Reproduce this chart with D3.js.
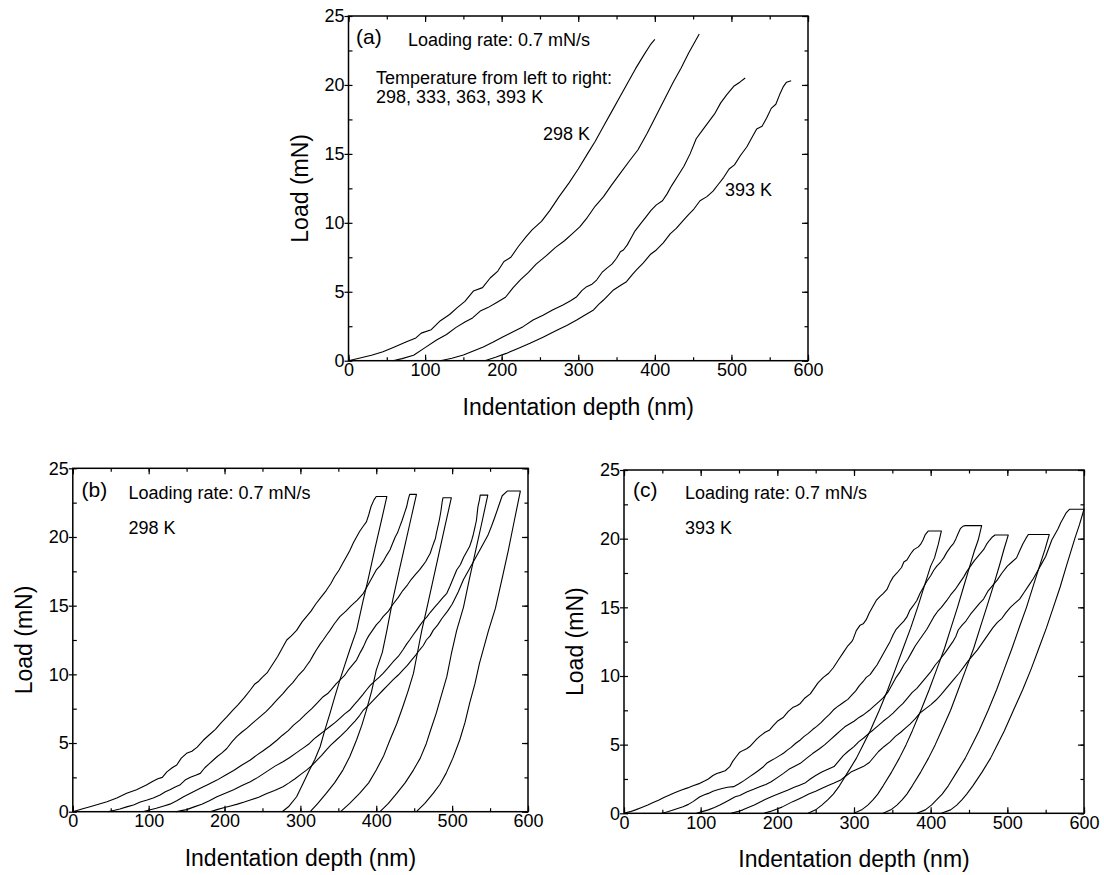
<!DOCTYPE html>
<html>
<head>
<meta charset="utf-8">
<script src="https://cdn.jsdelivr.net/npm/d3@7/dist/d3.min.js"></script>
<style>
  body { margin: 0; background: #fff; }
  svg { display: block; font-family: Arial, "Liberation Sans", Helvetica, sans-serif; }
</style>
</head>
<body>
<svg id="fig" width="1104" height="875"></svg>
<script>
// ---- axis ticks -------------------------------------------------------
const depthTicks = [0, 100, 200, 300, 400, 500, 600];
const depthMinor = [0, 50, 100, 150, 200, 250, 300, 350, 400, 450, 500, 550, 600];
const loadTicks = [0, 5, 10, 15, 20, 25];
const loadMinor = [0, 2.5, 5, 7.5, 10, 12.5, 15, 17.5, 20, 22.5, 25];

// ---- (a) loading curves at four temperatures: [depth nm, load mN] ------
const a298 = [[0,0],[15,0.2],[30,0.4],[45,0.65],[60,1.0],[75,1.35],[88,1.65],[95,2.0],[108,2.25],[120,2.9],[132,3.35],[142,3.85],[152,4.3],[163,5.05],[175,5.3],[185,6.0],[195,6.5],[203,7.2],[212,7.5],[222,8.3],[232,9.0],[240,9.5],[252,10.1],[263,10.9],[275,11.9],[288,12.9],[300,13.9],[312,15.0],[322,15.9],[333,17.0],[344,18.1],[355,19.2],[365,20.2],[375,21.2],[386,22.2],[394,22.9],[400,23.3]];
const a333 = [[58,0],[70,0.15],[85,0.4],[100,0.95],[115,1.5],[128,1.9],[140,2.4],[152,2.8],[162,3.1],[172,3.6],[182,3.85],[193,4.2],[205,4.6],[215,5.3],[225,5.9],[235,6.4],[245,7.0],[258,7.6],[270,8.2],[282,8.7],[292,9.2],[302,9.7],[312,10.4],[322,11.2],[333,11.9],[343,12.7],[355,13.6],[367,14.5],[378,15.3],[390,16.5],[402,17.8],[413,19.0],[424,20.2],[434,21.2],[444,22.3],[452,23.1],[458,23.7]];
const a363 = [[120,0],[135,0.18],[150,0.41],[163,0.7],[176,1.0],[189,1.35],[202,1.74],[215,2.1],[228,2.47],[241,2.95],[254,3.3],[267,3.7],[280,4.04],[290,4.35],[298,4.64],[305,5.1],[311,5.37],[318,5.55],[324,5.85],[331,6.4],[337,6.7],[344,7.0],[350,7.43],[355,7.9],[359,8.03],[364,8.4],[369,8.9],[374,9.4],[381,9.9],[388,10.4],[395,10.9],[402,11.3],[410,11.6],[416,12.1],[422,12.7],[430,13.4],[438,14.1],[446,15.0],[454,16.1],[462,16.7],[470,17.3],[478,17.9],[486,18.7],[494,19.3],[503,19.9],[511,20.2],[518,20.5]];
const a393 = [[178,0],[192,0.25],[206,0.53],[222,0.9],[237,1.26],[254,1.7],[272,2.2],[285,2.55],[298,2.95],[310,3.35],[320,3.68],[327,4.1],[333,4.4],[340,4.8],[346,5.13],[355,5.45],[363,5.73],[370,6.2],[376,6.58],[385,7.1],[394,7.7],[402,8.03],[411,8.55],[420,9.2],[428,9.6],[436,10.1],[444,10.6],[451,11.0],[459,11.6],[468,11.9],[476,12.3],[483,12.8],[490,13.3],[497,13.9],[504,14.2],[512,14.9],[520,15.5],[527,16.2],[533,16.8],[540,17.0],[546,17.6],[552,18.3],[558,18.6],[563,19.3],[568,19.9],[572,20.2],[578,20.3]];

// ---- (b) load-hold-unload cycles at 298 K ------------------------------
const b1 = [[0,0],[12,0.2],[25,0.4],[45,0.73],[58,1.0],[71,1.34],[84,1.6],[97,1.94],[105,2.2],[112,2.4],[118,2.5],[124,2.9],[131,3.2],[137,3.4],[143,3.9],[150,4.25],[157,4.4],[164,4.7],[172,5.2],[180,5.6],[188,6.0],[196,6.5],[203,6.9],[211,7.4],[218,7.8],[226,8.3],[234,8.86],[240,9.3],[245,9.5],[250,9.8],[256,10.1],[263,10.7],[270,11.3],[276,11.9],[282,12.5],[288,12.8],[295,13.2],[302,13.8],[308,14.2],[314,14.6],[320,15.1],[327,15.6],[334,16.1],[340,16.6],[345,17.1],[351,17.6],[356,18.1],[361,18.6],[365,19.0],[370,19.6],[374,20.0],[378,20.4],[383,20.8],[387,21.1],[390,21.6],[393,22.2],[397,22.7],[400,22.95],[414,22.95],
  [406,21.0],[398,19.1],[390,17.1],[382,15.2],[374,13.2],[365,11.77],[358,10.6],[352,9.58],[345,8.3],[339,7.16],[332,5.9],[326,4.73],[319,3.8],[312,3.03],[303,2.0],[295,1.09],[285,0.4],[276,0]];
const b2 = [[46,0],[55,0.1],[62,0.2],[71,0.35],[80,0.49],[89,0.7],[98,0.85],[106,1.0],[115,1.21],[122,1.45],[128,1.6],[135,1.8],[141,1.94],[148,2.3],[155,2.5],[162,2.65],[168,2.79],[174,3.2],[180,3.5],[186,3.8],[190,4.0],[197,4.3],[203,4.6],[210,5.1],[216,5.46],[223,5.8],[230,6.1],[238,6.5],[247,6.92],[255,7.3],[262,7.7],[270,8.2],[277,8.6],[283,9.0],[290,9.4],[297,9.9],[304,10.3],[309,10.7],[313,11.0],[317,11.4],[321,11.77],[326,12.2],[330,12.5],[335,12.9],[339,13.2],[345,13.7],[352,14.2],[360,14.6],[367,15.0],[375,15.4],[383,15.9],[388,16.4],[392,16.8],[396,17.2],[400,17.6],[405,17.9],[410,18.3],[414,18.7],[418,19.05],[422,19.6],[425,20.0],[428,20.3],[431,20.75],[434,21.2],[437,21.7],[440,22.2],[442,22.7],[444,23.1],[453,23.1],
  [446,21.4],[438,19.45],[430,17.5],[422,15.5],[414,13.2],[408,11.6],[400,10.31],[394,8.8],[387,7.4],[381,6.3],[374,5.22],[365,4.0],[356,3.03],[345,2.1],[334,1.33],[323,0.6],[313,0]];
const b3 = [[92,0],[101,0.12],[110,0.25],[119,0.4],[128,0.55],[137,0.8],[146,1.09],[157,1.4],[168,1.7],[179,2.0],[190,2.3],[201,2.65],[212,3.0],[223,3.4],[234,3.76],[242,4.1],[250,4.4],[260,4.8],[269,5.2],[276,5.55],[284,5.9],[291,6.3],[299,6.67],[307,7.1],[315,7.5],[322,7.9],[330,8.37],[336,8.6],[341,8.9],[347,9.3],[352,9.58],[358,9.9],[363,10.3],[369,10.7],[374,11.04],[379,11.6],[383,12.0],[387,12.5],[390,12.8],[395,13.2],[400,13.6],[405,13.9],[409,14.2],[416,14.6],[422,15.1],[429,15.6],[435,16.1],[441,16.5],[446,16.9],[452,17.3],[457,17.6],[461,17.9],[465,18.2],[468,18.5],[471,18.8],[474,19.3],[476,19.6],[478,19.9],[479,20.2],[481,20.7],[483,21.2],[485,21.8],[486,22.2],[487,22.6],[488,22.86],[499,22.86],
  [491,20.9],[483,18.9],[475,16.9],[467,14.9],[460,13.2],[454,11.5],[449,10.07],[442,8.8],[435,7.64],[427,6.4],[418,5.22],[410,4.1],[400,3.03],[390,2.1],[378,1.33],[365,0.6],[353,0]];
const b4 = [[136,0],[143,0.08],[150,0.15],[160,0.35],[170,0.55],[180,0.8],[190,1.09],[201,1.35],[212,1.6],[223,1.9],[234,2.18],[244,2.5],[255,2.9],[266,3.3],[277,3.64],[286,3.95],[295,4.3],[304,4.65],[312,4.97],[318,5.3],[325,5.6],[332,5.9],[339,6.2],[346,6.5],[352,6.8],[358,7.1],[365,7.4],[371,7.8],[376,8.1],[382,8.5],[387,8.86],[392,9.2],[398,9.5],[404,9.8],[409,10.07],[416,10.5],[422,10.9],[429,11.3],[435,11.77],[440,12.2],[444,12.5],[449,12.9],[453,13.2],[458,13.6],[462,13.9],[467,14.2],[471,14.5],[477,14.9],[482,15.2],[488,15.6],[493,15.9],[497,16.4],[500,16.8],[503,17.2],[506,17.6],[511,18.0],[515,18.5],[519,18.9],[523,19.3],[526,19.8],[528,20.2],[530,20.7],[532,21.2],[533,21.7],[534,22.2],[536,22.7],[537,23.05],[547,23.05],
  [539,21.0],[531,19.0],[523,17.0],[515,14.9],[506,13.2],[499,11.5],[493,9.83],[486,8.5],[479,7.16],[472,6.0],[466,4.97],[458,3.9],[449,3.03],[438,2.1],[427,1.33],[416,0.6],[405,0]];
const b5 = [[181,0],[190,0.15],[200,0.3],[208,0.42],[217,0.55],[226,0.7],[234,0.85],[245,1.05],[255,1.3],[266,1.55],[277,1.82],[285,2.1],[293,2.4],[300,2.7],[308,3.03],[315,3.35],[321,3.7],[328,4.1],[334,4.49],[340,4.85],[347,5.2],[354,5.55],[361,5.94],[367,6.3],[372,6.6],[378,7.0],[383,7.4],[390,7.75],[396,8.1],[402,8.45],[409,8.86],[416,9.25],[422,9.6],[429,9.95],[435,10.31],[441,10.65],[446,11.0],[452,11.4],[457,11.77],[462,12.1],[466,12.5],[471,12.8],[475,13.2],[481,13.6],[487,14.1],[494,14.6],[500,15.1],[508,16.0],[515,16.9],[522,17.6],[530,18.4],[538,19.2],[547,20.1],[552,20.8],[556,21.4],[561,22.2],[566,23.0],[573,23.35],[590,23.35],
  [582,21.2],[574,19.0],[566,17.0],[557,14.8],[548,13.2],[542,12.0],[536,10.8],[530,9.3],[523,7.88],[517,6.5],[510,5.22],[501,3.9],[492,2.79],[484,2.0],[475,1.33],[464,0.6],[453,0]];

// ---- (c) load-hold-unload cycles at 393 K ------------------------------
const c1 = [[0,0],[8,0.12],[15,0.25],[23,0.42],[31,0.6],[38,0.78],[45,0.95],[52,1.15],[58,1.3],[66,1.5],[75,1.7],[83,1.85],[90,2.0],[99,2.18],[105,2.35],[110,2.5],[116,2.75],[121,2.9],[127,3.0],[132,3.1],[138,3.4],[142,3.8],[146,4.1],[151,4.45],[156,4.6],[160,4.7],[164,4.86],[168,5.1],[173,5.4],[177,5.6],[184,5.9],[190,6.07],[195,6.4],[200,6.7],[208,7.0],[214,7.4],[220,7.7],[226,7.85],[230,8.0],[236,8.4],[243,8.7],[248,9.1],[253,9.5],[260,9.9],[267,10.2],[273,10.6],[280,11.2],[286,11.7],[292,12.2],[297,12.5],[299,12.7],[303,13.3],[308,13.7],[312,13.8],[316,14.1],[320,14.6],[325,15.1],[329,15.5],[334,15.8],[338,16.0],[343,16.3],[347,16.8],[351,17.2],[356,17.5],[362,17.9],[365,18.3],[369,18.45],[374,18.9],[378,19.2],[384,19.4],[387,19.6],[390,19.9],[393,20.3],[397,20.56],[414,20.56],
  [410,19.6],[405,18.6],[400,18.0],[392,16.6],[383,15.0],[374,13.5],[364,12.0],[354,10.5],[344,9.0],[333,7.5],[321,6.0],[312,5.0],[303,4.0],[292,3.0],[281,2.0],[273,1.4],[266,1.0],[258,0.6],[250,0.25],[240,0]];
const c2 = [[49.5,0],[56,0.1],[62,0.2],[70,0.35],[77,0.48],[84,0.65],[90,0.85],[99,1.21],[105,1.35],[110,1.45],[116,1.6],[121,1.7],[128,1.8],[135,1.9],[143,1.94],[150,2.15],[157,2.4],[164,2.67],[170,2.9],[175,3.1],[181,3.35],[186,3.64],[192,3.85],[197,4.0],[203,4.2],[208,4.37],[213,4.6],[218,4.8],[224,5.1],[230,5.34],[235,5.6],[240,5.8],[246,6.1],[251,6.31],[257,6.6],[262,6.9],[268,7.2],[273,7.52],[278,7.75],[282,7.9],[287,8.1],[292,8.3],[297,8.6],[302,8.9],[307,9.3],[312,9.6],[316,9.9],[321,10.1],[326,10.5],[330,10.8],[334,11.2],[338,11.6],[342,12.0],[347,12.5],[351,13.0],[355,13.4],[360,13.7],[365,14.0],[369,14.3],[373,14.8],[377,15.1],[382,15.5],[386,16.0],[391,16.5],[395,16.9],[400,17.3],[404,17.7],[408,18.0],[413,18.3],[417,18.6],[421,19.0],[426,19.4],[430,19.66],[433,20.0],[436,20.4],[439,20.75],[442,20.9],[445,20.95],[466.5,20.95],
  [462,19.9],[457,19.1],[451,18.0],[443,16.5],[435,15.0],[427,13.6],[418,12.0],[408,10.5],[398,9.0],[388,7.6],[376,6.0],[368,5.0],[359,4.0],[349,3.0],[338,2.0],[331,1.4],[325,1.0],[318,0.6],[310,0.25],[300,0]];
const c3 = [[94.6,0],[102,0.12],[110,0.25],[118,0.42],[125,0.6],[132,0.8],[138,0.98],[145,1.2],[151,1.3],[160,1.55],[169,1.75],[177,1.94],[185,2.1],[192,2.3],[200,2.6],[208,2.91],[215,3.2],[222,3.4],[230,3.64],[238,4.0],[246,4.35],[255,4.7],[262,5.0],[270,5.4],[276,5.7],[282,6.0],[288,6.3],[294,6.5],[300,6.7],[307,7.0],[313,7.2],[320,7.5],[326,7.8],[332,8.1],[338,8.4],[344,8.8],[350,9.4],[355,9.9],[360,10.3],[365,10.8],[370,11.2],[375,11.7],[380,12.2],[385,12.6],[390,13.0],[395,13.4],[400,13.9],[404,14.3],[409,14.7],[414,15.0],[421,15.5],[426,15.9],[432,16.3],[438,16.8],[443,17.2],[447,17.6],[452,18.0],[457,18.4],[463,18.8],[469,19.2],[473,19.6],[477,19.9],[480,20.1],[484,20.27],[501.3,20.27],
  [496,19.3],[490,18.1],[482,16.6],[473,15.0],[465,13.6],[456,12.0],[446,10.5],[436,9.0],[426,7.5],[414,6.0],[406,5.0],[397,4.0],[387,3.0],[376,2.0],[369,1.4],[363,1.0],[356,0.6],[348,0.25],[338,0]];
const c4 = [[139.6,0],[148,0.12],[155,0.25],[162,0.42],[170,0.6],[177,0.8],[184,1.0],[190,1.15],[196,1.3],[205,1.5],[214,1.7],[222,1.9],[229,2.05],[236,2.2],[243,2.5],[250,2.75],[258,3.0],[266,3.2],[274,3.4],[280,3.8],[286,4.2],[292,4.5],[300,4.86],[306,5.2],[313,5.5],[319,5.8],[325,6.07],[332,6.4],[338,6.7],[345,7.0],[351,7.3],[358,7.7],[364,8.0],[370,8.4],[376,8.8],[382,9.1],[388,9.5],[394,9.9],[400,10.3],[406,10.8],[412,11.2],[419,11.7],[424,12.1],[429,12.5],[433,12.9],[436,13.35],[441,13.7],[446,14.0],[452,14.5],[458,14.9],[464,15.3],[469,15.6],[475,16.2],[481,16.6],[487,17.0],[493,17.5],[500,18.0],[506,18.3],[512,18.6],[516,19.1],[520,19.6],[524,20.0],[527.4,20.3],[554.7,20.3],
  [549,19.2],[542,18.0],[534,16.6],[525,15.0],[516,13.6],[506,12.0],[496,10.5],[486,9.0],[475,7.5],[463,6.0],[454,5.0],[445,4.0],[434,3.0],[423,2.0],[415,1.4],[408,1.0],[401,0.6],[393,0.25],[382,0]];
const c5 = [[182.4,0],[190,0.12],[198,0.28],[206,0.45],[213,0.65],[220,0.85],[228,1.05],[234,1.2],[241,1.4],[250,1.6],[259,1.85],[267,2.05],[274,2.2],[282,2.4],[289,2.7],[296,3.0],[304,3.2],[312,3.4],[320,3.7],[326,4.1],[332,4.5],[339,4.85],[347,5.2],[354,5.6],[361,5.9],[367,6.2],[373,6.5],[380,6.9],[386,7.3],[393,7.6],[400,7.9],[407,8.25],[413,8.6],[419,9.0],[425,9.4],[431,9.8],[437,10.2],[443,10.65],[449,11.1],[455,11.5],[461,11.9],[466,12.3],[471,12.7],[476,13.1],[481,13.5],[487,13.9],[493,14.2],[498,14.6],[504,15.0],[510,15.3],[516,15.6],[522,16.1],[528,16.6],[534,17.1],[540,17.7],[545,18.2],[550,18.7],[554,19.3],[558,19.9],[562,20.3],[566,20.7],[570,21.2],[574,21.6],[577,21.9],[581,22.14],[600,22.14],
  [594,21.0],[588,20.0],[577,18.0],[569,16.5],[560,15.0],[551,13.5],[541,12.0],[531,10.5],[520,9.0],[508,7.5],[496,6.0],[487,5.0],[478,4.0],[467,3.0],[455,2.0],[447,1.4],[441,1.0],[434,0.6],[426,0.25],[414,0]];

// ---- panel layout -----------------------------------------------------
const FONT = 'Arial, "Liberation Sans", Helvetica, sans-serif';
const panels = [
  { left: 348.5, top: 16, width: 459.5, height: 344.7,
    curves: [a298, a333, a363, a393],
    notes: [
      { t: '(a)', x: 356, y: 44, s: 21 },
      { t: 'Loading rate: 0.7 mN/s', x: 408, y: 46, s: 18 },
      { t: 'Temperature from left to right:', x: 376, y: 84, s: 18 },
      { t: '298, 333, 363, 393 K', x: 376, y: 103, s: 18 },
      { t: '298 K', x: 543, y: 140, s: 18 },
      { t: '393 K', x: 725, y: 196, s: 18 }
    ] },
  { left: 72.8, top: 468.3, width: 455.2, height: 343.4,
    curves: [b1, b2, b3, b4, b5],
    notes: [
      { t: '(b)', x: 81.5, y: 497, s: 21 },
      { t: 'Loading rate: 0.7 mN/s', x: 128.5, y: 499, s: 18 },
      { t: '298 K', x: 128.5, y: 534, s: 18 }
    ] },
  { left: 624, top: 470, width: 460, height: 343.3,
    curves: [c1, c2, c3, c4, c5],
    notes: [
      { t: '(c)', x: 633, y: 497, s: 21 },
      { t: 'Loading rate: 0.7 mN/s', x: 685, y: 499, s: 18 },
      { t: '393 K', x: 685, y: 534, s: 18 }
    ] }
];

const svg = d3.select('#fig');

function styleAxis(sel) {
  sel.select('.domain').remove();
  sel.selectAll('line').attr('stroke', '#000').attr('stroke-width', 1.2);
  sel.selectAll('text').attr('fill', '#000')
    .attr('font-family', FONT).attr('font-size', 18);
}

function drawPanel(p) {
  const g = svg.append('g').attr('transform', `translate(${p.left},${p.top})`);
  const x = d3.scaleLinear().domain([0, 600]).range([0, p.width]);
  const y = d3.scaleLinear().domain([0, 25]).range([p.height, 0]);

  // curves
  const line = d3.line().x(d => x(d[0])).y(d => y(d[1]));
  g.selectAll('path.curve').data(p.curves).join('path')
    .attr('class', 'curve')
    .attr('d', line)
    .attr('fill', 'none')
    .attr('stroke', '#000')
    .attr('stroke-width', 1.1)
    .attr('stroke-linejoin', 'round');

  // bottom axis: inward ticks with labels
  g.append('g').attr('transform', `translate(0,${p.height})`)
    .call(d3.axisBottom(x).tickValues(depthTicks).tickSizeInner(-6).tickSizeOuter(0).tickPadding(3))
    .call(styleAxis);
  g.append('g').attr('transform', `translate(0,${p.height})`)
    .call(d3.axisBottom(x).tickValues(depthMinor).tickSizeInner(-3.5).tickSizeOuter(0).tickFormat(''))
    .call(styleAxis);
  // top axis: inward ticks only
  g.append('g')
    .call(d3.axisTop(x).tickValues(depthTicks).tickSizeInner(-6).tickSizeOuter(0).tickFormat(''))
    .call(styleAxis);
  g.append('g')
    .call(d3.axisTop(x).tickValues(depthMinor).tickSizeInner(-3.5).tickSizeOuter(0).tickFormat(''))
    .call(styleAxis);

  // left axis: major ticks outward, minor inward
  g.append('g')
    .call(d3.axisLeft(y).tickValues(loadTicks).tickSizeInner(4).tickSizeOuter(0).tickPadding(0))
    .call(styleAxis);
  g.append('g')
    .call(d3.axisLeft(y).tickValues(loadMinor).tickSizeInner(-4).tickSizeOuter(0).tickFormat(''))
    .call(styleAxis);
  // right axis: inward ticks
  g.append('g').attr('transform', `translate(${p.width},0)`)
    .call(d3.axisRight(y).tickValues(loadTicks).tickSizeInner(-6).tickSizeOuter(0).tickFormat(''))
    .call(styleAxis);
  g.append('g').attr('transform', `translate(${p.width},0)`)
    .call(d3.axisRight(y).tickValues(loadMinor).tickSizeInner(-3.5).tickSizeOuter(0).tickFormat(''))
    .call(styleAxis);

  // frame
  g.append('rect')
    .attr('x', 0).attr('y', 0).attr('width', p.width).attr('height', p.height)
    .attr('fill', 'none').attr('stroke', '#000').attr('stroke-width', 1.5);

  // axis titles
  g.append('text')
    .attr('x', p.width / 2).attr('y', p.height + 54)
    .attr('text-anchor', 'middle')
    .attr('font-family', FONT).attr('font-size', 23)
    .text('Indentation depth (nm)');
  g.append('text')
    .attr('transform', `translate(-41,${p.height / 2}) rotate(-90)`)
    .attr('text-anchor', 'middle')
    .attr('font-family', FONT).attr('font-size', 23)
    .text('Load (mN)');

  // annotations
  svg.selectAll(null).data(p.notes).join('text')
    .attr('x', d => d.x).attr('y', d => d.y)
    .attr('font-family', FONT).attr('font-size', d => d.s)
    .attr('fill', '#000')
    .text(d => d.t);
}

panels.forEach(drawPanel);
</script>
</body>
</html>
